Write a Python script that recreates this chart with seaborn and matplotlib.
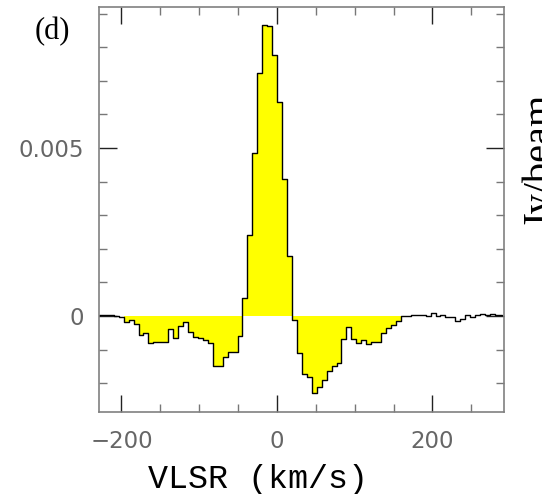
import numpy as np
import pandas as pd
import matplotlib
matplotlib.use("Agg")
import matplotlib.pyplot as plt
import seaborn as sns
from matplotlib.ticker import FixedLocator, MultipleLocator, FuncFormatter

# ---- data ----
velocity = [-232.2, -225.8, -219.5, -213.1, -206.7, -200.4, -194.0, -187.6, -181.3, -174.9,
            -168.5, -162.2, -155.8, -149.4, -143.1, -136.7, -130.3, -124.0, -117.6, -111.2,
            -104.9, -98.5, -92.1, -85.8, -79.4, -73.0, -66.7, -60.3, -53.9, -47.6,
            -41.2, -34.8, -28.5, -22.1, -15.7, -9.4, -3.0, 3.4, 9.7, 16.1,
            22.5, 28.8, 35.2, 41.6, 47.9, 54.3, 60.7, 67.0, 73.4, 79.8,
            86.1, 92.5, 98.9, 105.2, 111.6, 118.0, 124.3, 130.7, 137.1, 143.4,
            149.8, 156.2, 162.5, 168.9, 175.3, 181.6, 188.0, 194.4, 200.7, 207.1,
            213.5, 219.8, 226.2, 232.6, 238.9, 245.3, 251.7, 258.0, 264.4, 270.8,
            277.1, 283.5, 289.9]
flux = [0.00000, 0.00002, 0.00004, 0.00003, 0.00000, -0.00003, -0.00019, -0.00012, -0.00024, -0.00055,
        -0.00050, -0.00079, -0.00076, -0.00076, -0.00076, -0.00039, -0.00066, -0.00029, -0.00017, -0.00047,
        -0.00062, -0.00066, -0.00071, -0.00079, -0.00148, -0.00148, -0.00123, -0.00106, -0.00106, -0.00060,
        0.00053, 0.00240, 0.00485, 0.00725, 0.00866, 0.00862, 0.00777, 0.00638, 0.00407, 0.00178,
        -0.00012, -0.00111, -0.00173, -0.00182, -0.00228, -0.00212, -0.00190, -0.00163, -0.00149, -0.00141,
        -0.00069, -0.00034, -0.00069, -0.00081, -0.00071, -0.00083, -0.00076, -0.00076, -0.00052, -0.00037,
        -0.00027, -0.00014, 0.00001, 0.00001, 0.00002, 0.00003, 0.00003, 0.00001, 0.00010, 0.00000,
        0.00003, -0.00002, -0.00004, -0.00014, -0.00008, 0.00003, -0.00002, 0.00002, 0.00005, 0.00002,
        0.00007, 0.00002, 0.00003]
shade_range = (-197.0, 159.0)
x_major = [-200, 0, 200]
y_major = [0.0, 0.005]
panel_label = "(d)"
x_label = "VLSR (km/s)"
y_label = "Jy/beam"

sns.set_theme(style="ticks")
plt.rcParams["font.family"] = ["DejaVu Sans"]

fig = plt.figure(figsize=(5.42, 4.94), dpi=100)
ax = fig.add_axes([0.1827, 0.166, 0.7472, 0.8198])

v = np.asarray(velocity)
f = np.asarray(flux)
edges = np.concatenate([[v[0] - (v[1] - v[0]) / 2], (v[:-1] + v[1:]) / 2,
                        [v[-1] + (v[-1] - v[-2]) / 2]])
sel = np.where((v > shade_range[0]) & (v < shade_range[1]))[0]
e_sub = edges[sel[0]:sel[-1] + 2]
f_sub = np.append(f[sel], f[sel[-1]])
ax.fill_between(e_sub, f_sub, 0, step="post", color="#ffff00", linewidth=0, zorder=1)

df = pd.DataFrame({"v": v, "f": f})
sns.lineplot(data=df, x="v", y="f", drawstyle="steps-mid", color="black",
             linewidth=1.0, ax=ax, zorder=2, estimator=None)

ax.set_xlim(-228.9, 292.0)
ax.set_ylim(-0.002857, 0.0092)
ax.set_xlabel("")
ax.set_ylabel("")

ax.xaxis.set_major_locator(FixedLocator(x_major))
ax.xaxis.set_minor_locator(MultipleLocator(50))
ax.yaxis.set_major_locator(FixedLocator(y_major))
ax.yaxis.set_minor_locator(MultipleLocator(0.001))
ax.yaxis.set_major_formatter(FuncFormatter(lambda val, pos: "0" if abs(val) < 1e-12 else f"{val:g}"))
ax.xaxis.set_major_formatter(FuncFormatter(lambda val, pos: f"{val:g}".replace("-", "\u2212")))

ax.tick_params(which="both", direction="in", top=True, right=True, width=1.0)
ax.tick_params(which="major", length=12, color="#222222", labelsize=16.5, labelcolor="#666666")
ax.tick_params(which="minor", length=6, color="#777777")
ax.tick_params(axis="y", which="major", length=13, pad=11)
ax.tick_params(axis="x", which="major", pad=13)
for s in ax.spines.values():
    s.set_color("#808080")
    s.set_linewidth(1.2)

fig.text(257.5 / 542, 1 - 488 / 494, x_label, family="Liberation Mono", fontsize=24,
         ha="center", va="baseline", color="black")
fig.text(522 / 542, 1 - 160.5 / 494, y_label, family="Liberation Serif", fontsize=29,
         rotation=90, ha="left", va="center", color="black")
fig.text(35 / 542, 1 - 17 / 494, panel_label, family="Liberation Serif", fontsize=22,
         ha="left", va="top", color="black")

fig.savefig("out.png", dpi=100)
